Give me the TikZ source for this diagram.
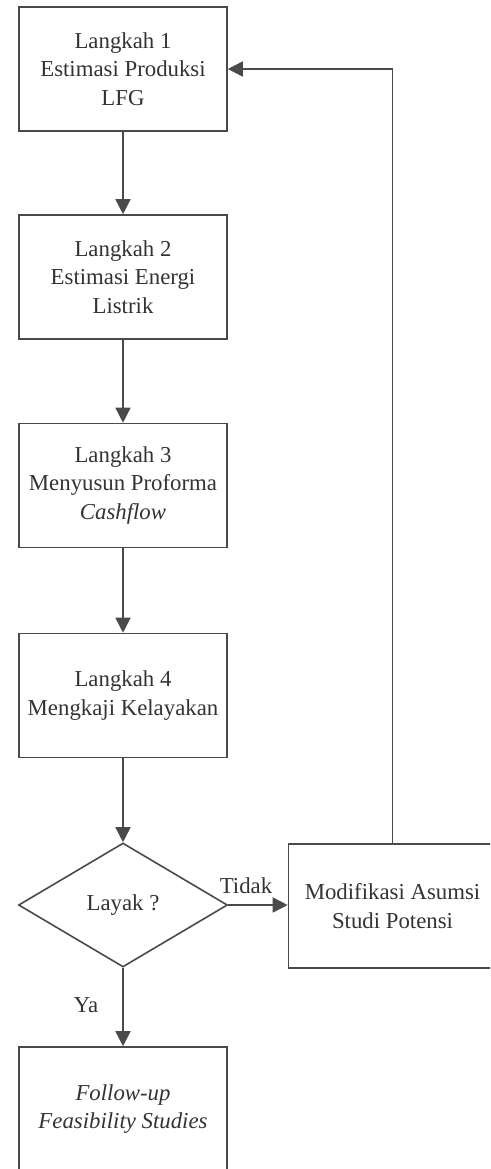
\documentclass[tikz,border=0pt]{standalone}
\usepackage{fontspec}
\setmainfont{Liberation Serif}
\usetikzlibrary{arrows.meta,shapes.geometric}
\definecolor{ln}{HTML}{4A4A4A}
\definecolor{tx}{HTML}{333333}
\tikzset{
  stepbox/.style={draw=ln, line width=1.6pt, rectangle, minimum width=208pt, minimum height=124pt, inner sep=0pt, align=center, text=tx, font=\fontsize{22.8}{28.5}\selectfont},
  decide/.style={draw=ln, line width=1.6pt, diamond, minimum width=209pt, minimum height=124pt, inner sep=0pt, align=center, text=tx, font=\fontsize{22.8}{28.5}\selectfont},
  flow/.style={draw=ln, line width=1.6pt, -{Triangle[length=15pt,width=15pt]}},
  lbl/.style={text=tx, font=\fontsize{22.8}{26}\selectfont, inner sep=0pt}
}
\begin{document}
\begin{tikzpicture}[x=1pt,y=1pt]
\useasboundingbox (0,0) rectangle (490,-1169);
\clip (0,0) rectangle (490,-1169);
\node[stepbox] (s1) at (123,-69) {Langkah 1\\Estimasi Produksi\\LFG};
\node[stepbox] (s2) at (123,-277) {Langkah 2\\Estimasi Energi\\Listrik};
\node[stepbox] (s3) at (123,-485.5) {Langkah 3\\Menyusun Proforma\\\textit{Cashflow}};
\node[stepbox] (s4) at (123,-695.5) {Langkah 4\\Mengkaji Kelayakan};
\node[decide] (d) at (123,-905) {Layak ?};
\node[stepbox] (m) at (392.5,-906) {Modifikasi Asumsi\\Studi Potensi};
\node[stepbox] (f) at (123,-1109) {\textit{Follow-up}\\\textit{Feasibility Studies}};
\coordinate (c) at (m.north |- s1.east);
\draw[flow] (s1) -- (s2);
\draw[flow] (s2) -- (s3);
\draw[flow] (s3) -- (s4);
\draw[flow] (s4) -- (d);
\draw[flow] (d.east) -- (m.west |- d.east);
\draw[flow] (d) -- (f);
\draw[flow] (m.north) -- (c) -- (s1.east);
\node[lbl] (ltidak) at (246,-886) {Tidak};
\node[lbl] (lya) at (86,-1005) {Ya};
\end{tikzpicture}
\end{document}
